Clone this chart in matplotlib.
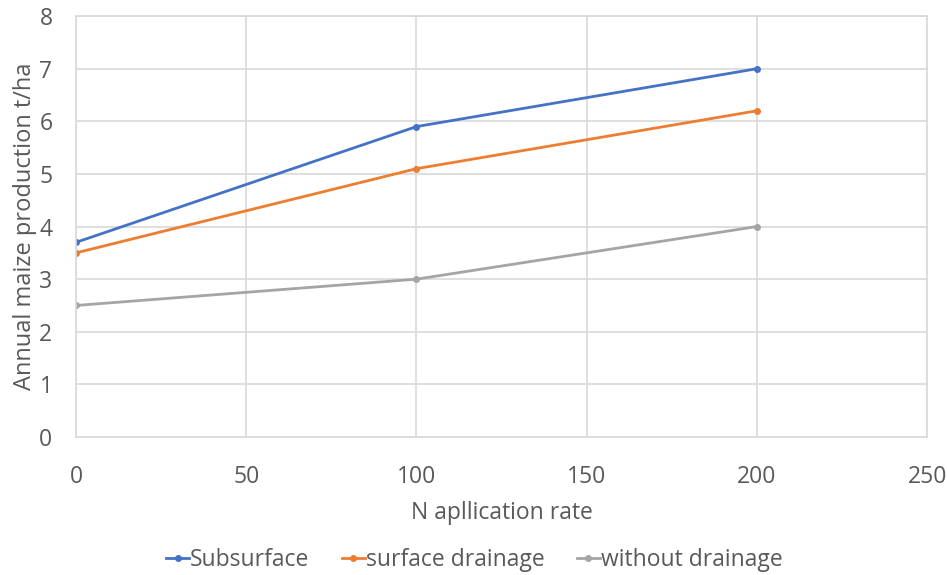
import matplotlib.pyplot as plt

n_rate = [0, 100, 200]
subsurface = [3.7, 5.9, 7.0]
surface_drainage = [3.5, 5.1, 6.2]
without_drainage = [2.5, 3.0, 4.0]

plt.rcParams['font.family'] = ['Open Sans', 'DejaVu Sans']
text_col = '#595959'

fig = plt.figure(figsize=(9.47, 5.75), dpi=100)
ax = fig.add_axes([0.0803, 0.24, 0.8987, 0.732])

ax.plot(n_rate, subsurface, color='#4472C4', lw=2, marker='o', ms=4, label='Subsurface')
ax.plot(n_rate, surface_drainage, color='#ED7D31', lw=2, marker='o', ms=4, label='surface drainage')
ax.plot(n_rate, without_drainage, color='#A5A5A5', lw=2, marker='o', ms=4, label='without drainage')

ax.set_xlim(0, 250)
ax.set_ylim(0, 8)
ax.set_xticks(range(0, 251, 50))
ax.set_yticks(range(0, 9))
ax.grid(True, color='#D9D9D9', lw=1.2)
ax.set_axisbelow(True)
for s in ax.spines.values():
    s.set_color('#D9D9D9')
    s.set_linewidth(1.2)
ax.tick_params(length=0, labelsize=16.5, labelcolor=text_col)
ax.tick_params(axis='y', pad=17)
ax.tick_params(axis='x', pad=20)

ax.set_xlabel('N apllication rate', fontsize=16.5, color=text_col, labelpad=9)
ax.set_ylabel('Annual maize production t/ha', fontsize=17, color=text_col, labelpad=2)

ax.legend(loc='upper center', bbox_to_anchor=(0.468, -0.215), ncol=3, frameon=False,
          fontsize=16.5, labelcolor=text_col, handlelength=1.0, handletextpad=0.05,
          columnspacing=1.4)

fig.savefig('out.png', dpi=100)
